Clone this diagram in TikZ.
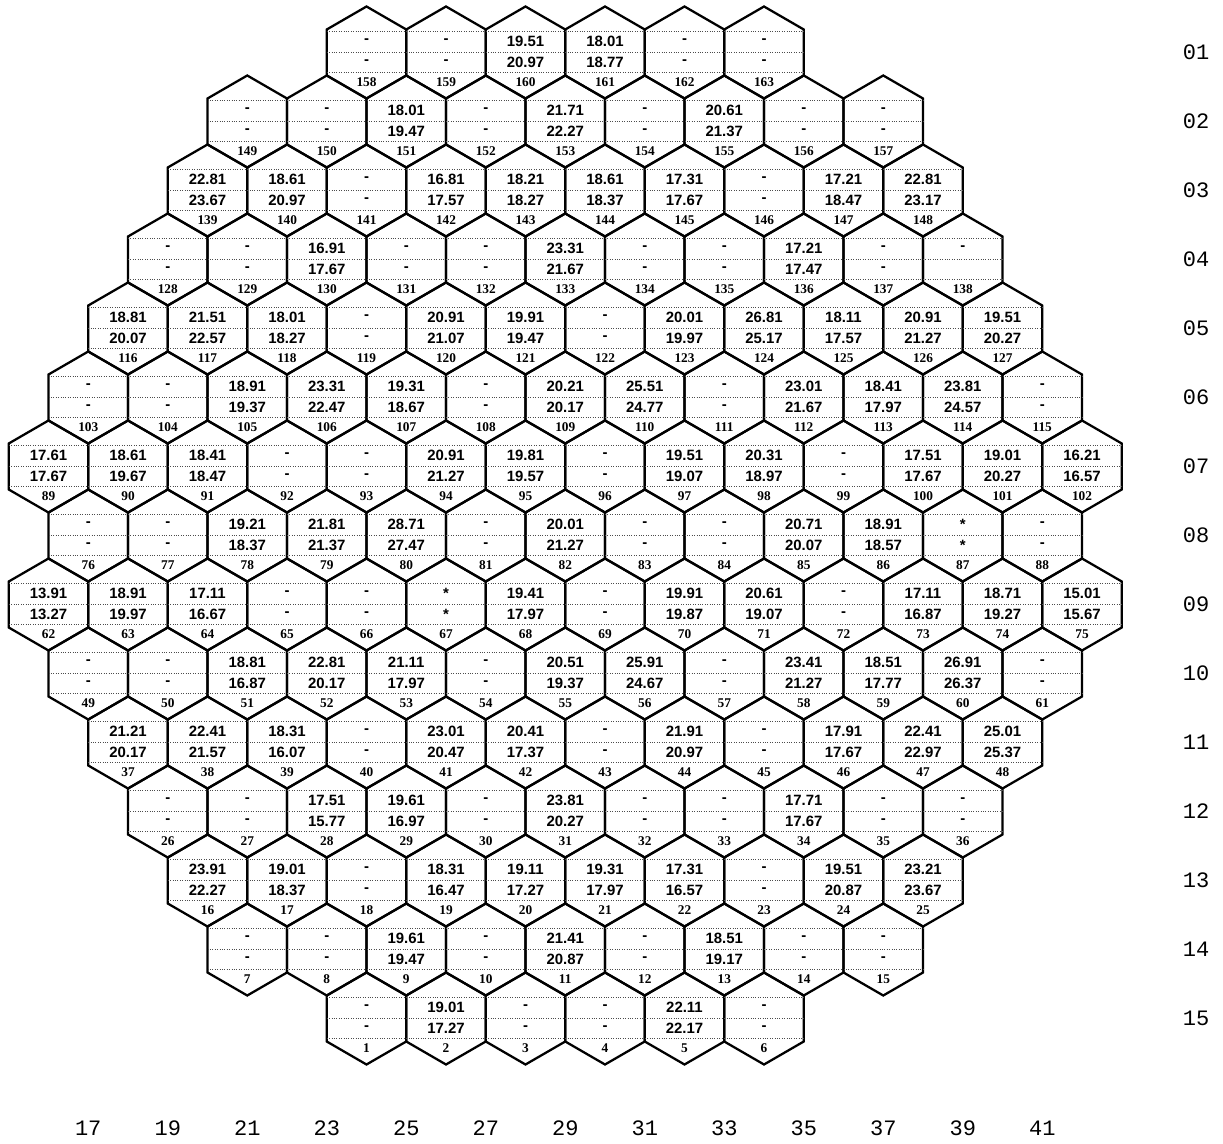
\documentclass[tikz,border=0pt]{standalone}
\usepackage{fontspec}
\setmainfont{Liberation Sans}
\newfontfamily\cellidfont{Liberation Serif}
\newfontfamily\axisfont{Liberation Mono}

% one row of the core map: #1 row, #2 first column index, #3 first cell number, #4 upper/lower values
\newcommand{\corerow}[4]{%
  \foreach \valA/\valB [count=\k from 0] in {#4} {
    \pgfmathsetmacro{\cx}{48.5+39.75*(#2+2*\k)}
    \pgfmathsetmacro{\cy}{52.5+69*(#1-1)}
    \pgfmathtruncatemacro{\cid}{#3+\k}
    \coordinate (h\cid) at (\cx,\cy);
    \draw[hexcell] (h\cid) ++(0,-46) -- ++(39.75,23) -- ++(0,46) -- ++(-39.75,23)
      -- ++(-39.75,-23) -- ++(0,-46) -- cycle;
    \draw[celldots] (h\cid) ++(-39.75,-21) -- ++(79.5,0);
    \draw[celldots] (h\cid) ++(-39.75,0) -- ++(79.5,0);
    \draw[celldots] (h\cid) ++(-39.75,20) -- ++(79.5,0);
    \path (h\cid) ++(0,-11.5) node[valtext] (a\cid) {\valA};
    \path (h\cid) ++(0,9.5) node[valtext] (b\cid) {\valB};
    \path (h\cid) ++(0,29.5) node[idtext] (n\cid) {\cid};
  }%
}

\begin{document}
\begin{tikzpicture}[
  x=0.75pt, y=-0.75pt,
  hexcell/.style={line width=1.7pt, line join=miter},
  celldots/.style={line width=0.5pt, black!70, dash pattern=on 0.7pt off 1.1pt},
  valtext/.style={font=\bfseries\fontsize{11.2}{12}\selectfont, inner sep=0pt},
  idtext/.style={font=\cellidfont\bfseries\fontsize{10}{10}\selectfont, inner sep=0pt},
  axislabel/.style={font=\axisfont\fontsize{16.5}{17}\selectfont, inner sep=0pt},
]
  \path[fill=white] (0,0) rectangle (1223,1144);
  \useasboundingbox (0,0) rectangle (1223,1144);

  \corerow{1}{8}{158}{-/-, -/-, 19.51/20.97, 18.01/18.77, -/-, -/-}
  \corerow{2}{5}{149}{-/-, -/-, 18.01/19.47, -/-, 21.71/22.27, -/-, 20.61/21.37, -/-, -/-}
  \corerow{3}{4}{139}{22.81/23.67, 18.61/20.97, -/-, 16.81/17.57, 18.21/18.27, 18.61/18.37, 17.31/17.67, -/-, 17.21/18.47, 22.81/23.17}
  \corerow{4}{3}{128}{-/-, -/-, 16.91/17.67, -/-, -/-, 23.31/21.67, -/-, -/-, 17.21/17.47, -/-, -/{}}
  \corerow{5}{2}{116}{18.81/20.07, 21.51/22.57, 18.01/18.27, -/-, 20.91/21.07, 19.91/19.47, -/-, 20.01/19.97, 26.81/25.17, 18.11/17.57, 20.91/21.27, 19.51/20.27}
  \corerow{6}{1}{103}{-/-, -/-, 18.91/19.37, 23.31/22.47, 19.31/18.67, -/-, 20.21/20.17, 25.51/24.77, -/-, 23.01/21.67, 18.41/17.97, 23.81/24.57, -/-}
  \corerow{7}{0}{89}{17.61/17.67, 18.61/19.67, 18.41/18.47, -/-, -/-, 20.91/21.27, 19.81/19.57, -/-, 19.51/19.07, 20.31/18.97, -/-, 17.51/17.67, 19.01/20.27, 16.21/16.57}
  \corerow{8}{1}{76}{-/-, -/-, 19.21/18.37, 21.81/21.37, 28.71/27.47, -/-, 20.01/21.27, -/-, -/-, 20.71/20.07, 18.91/18.57, */*, -/-}
  \corerow{9}{0}{62}{13.91/13.27, 18.91/19.97, 17.11/16.67, -/-, -/-, */*, 19.41/17.97, -/-, 19.91/19.87, 20.61/19.07, -/-, 17.11/16.87, 18.71/19.27, 15.01/15.67}
  \corerow{10}{1}{49}{-/-, -/-, 18.81/16.87, 22.81/20.17, 21.11/17.97, -/-, 20.51/19.37, 25.91/24.67, -/-, 23.41/21.27, 18.51/17.77, 26.91/26.37, -/-}
  \corerow{11}{2}{37}{21.21/20.17, 22.41/21.57, 18.31/16.07, -/-, 23.01/20.47, 20.41/17.37, -/-, 21.91/20.97, -/-, 17.91/17.67, 22.41/22.97, 25.01/25.37}
  \corerow{12}{3}{26}{-/-, -/-, 17.51/15.77, 19.61/16.97, -/-, 23.81/20.27, -/-, -/-, 17.71/17.67, -/-, -/-}
  \corerow{13}{4}{16}{23.91/22.27, 19.01/18.37, -/-, 18.31/16.47, 19.11/17.27, 19.31/17.97, 17.31/16.57, -/-, 19.51/20.87, 23.21/23.67}
  \corerow{14}{5}{7}{-/-, -/-, 19.61/19.47, -/-, 21.41/20.87, -/-, 18.51/19.17, -/-, -/-}
  \corerow{15}{8}{1}{-/-, 19.01/17.27, -/-, -/-, 22.11/22.17, -/-}

  % row numbers on the right
  \foreach \r in {1,...,15}
    \node[axislabel] (row\r) at (1196,{52.5+69*(\r-1)}) {\ifnum\r<10 0\fi\r};

  % column numbers along the bottom
  \foreach \c in {17,19,...,41}
    \node[axislabel] (col\c) at ({48.5+39.75*(\c-16)},1128) {\c};
\end{tikzpicture}
\end{document}
